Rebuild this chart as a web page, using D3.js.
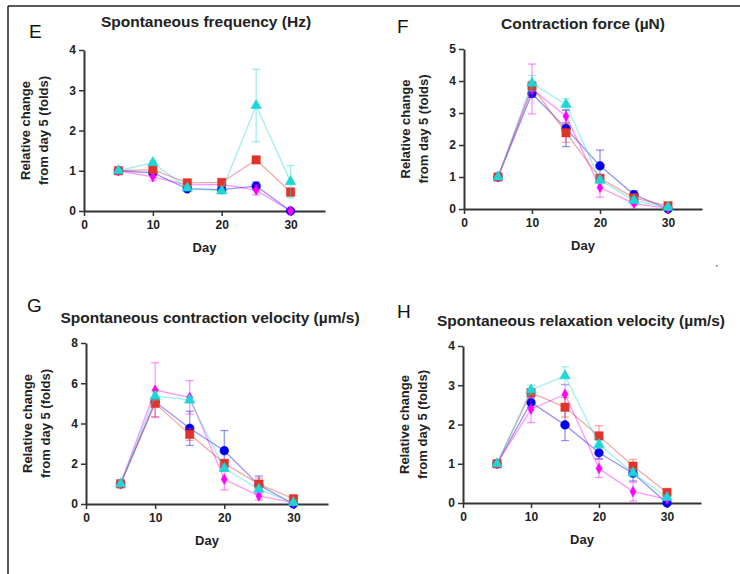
<!DOCTYPE html>
<html>
<head>
<meta charset="utf-8">
<script src="https://cdn.jsdelivr.net/npm/d3@7"></script>
<style>
	body { margin: 0; background: #fff; }
	svg text { font-family: 'Liberation Sans', Arial, sans-serif; }
	.title { font-size: 15.5px; font-weight: bold; fill: #222; }
	.letter { font-size: 19px; fill: #111; }
	.ylab { font-size: 13px; font-weight: bold; fill: #222; }
	.xlab { font-size: 13px; font-weight: bold; fill: #222; }
	.tick text { font-size: 12px; font-weight: bold; fill: #222; }
</style>
</head>
<body>
<script>

// x values (day) shared by every panel
var days = [5, 10, 15, 20, 25, 30];
var xTicks = [0, 10, 20, 30];

// E: spontaneous frequency
var freqBlue = [1.0, 0.95, 0.55, 0.53, 0.62, 0.0];
var freqBlueErr = [0, 0.05, 0.05, 0.05, 0.1, 0];
var freqRed = [1.0, 1.03, 0.70, 0.71, 1.27, 0.47];
var freqRedErr = [0, 0.05, 0.05, 0.05, 0.05, 0.1];
var freqMagenta = [1.0, 0.85, 0.65, 0.66, 0.52, 0.0];
var freqMagentaErr = [0, 0.1, 0.05, 0.05, 0.12, 0];
var freqCyan = [1.0, 1.2, 0.57, 0.5, 2.62, 0.73];
var freqCyanErr = [0, 0.05, 0.05, 0.05, 0.9, 0.4];

// F: contraction force
var forceBlue = [1.0, 3.61, 2.52, 1.35, 0.45, 0.0];
var forceBlueErr = [0, 0.12, 0.57, 0.49, 0.12, 0];
var forceRed = [1.0, 3.84, 2.38, 0.96, 0.35, 0.1];
var forceRedErr = [0, 0.15, 0.3, 0.12, 0.08, 0.03];
var forceMagenta = [1.0, 3.75, 2.9, 0.67, 0.17, 0.02];
var forceMagentaErr = [0, 0.78, 0.2, 0.3, 0.05, 0.02];
var forceCyan = [1.0, 3.93, 3.27, 0.9, 0.27, 0.05];
var forceCyanErr = [0, 0.24, 0.18, 0.1, 0.08, 0.02];

// G: spontaneous contraction velocity
var contrBlue = [1.0, 5.08, 3.76, 2.65, 0.95, 0.0];
var contrBlueErr = [0, 0.2, 0.85, 1.0, 0.44, 0];
var contrRed = [1.0, 5.0, 3.46, 2.02, 0.99, 0.26];
var contrRedErr = [0, 0.66, 0.3, 0.15, 0.3, 0.05];
var contrMagenta = [1.0, 5.66, 5.3, 1.23, 0.4, 0.07];
var contrMagentaErr = [0, 1.36, 0.83, 0.53, 0.2, 0.03];
var contrCyan = [1.0, 5.36, 5.17, 1.77, 0.73, 0.07];
var contrCyanErr = [0, 0.2, 0.15, 0.15, 0.1, 0.03];

// H: spontaneous relaxation velocity
var relaxBlue = [1.0, 2.56, 1.99, 1.28, 0.76, 0.0];
var relaxBlueErr = [0, 0.12, 0.4, 0.15, 0.2, 0];
var relaxRed = [1.0, 2.81, 2.44, 1.71, 0.94, 0.27];
var relaxRedErr = [0, 0.1, 0.25, 0.26, 0.17, 0.05];
var relaxMagenta = [1.0, 2.39, 2.77, 0.88, 0.29, 0.1];
var relaxMagentaErr = [0, 0.34, 0.25, 0.23, 0.24, 0.03];
var relaxCyan = [1.0, 2.88, 3.24, 1.49, 0.77, 0.14];
var relaxCyanErr = [0, 0.12, 0.23, 0.1, 0.1, 0.03];

var width = 740;
var height = 574;

var svg = d3.select('body').append('svg')
	.attr('width', width)
	.attr('height', height);

// frame (left + top only)
svg.append('line')
	.attr('x1', 8).attr('y1', 6)
	.attr('x2', 8).attr('y2', height)
	.attr('stroke', '#222')
	.attr('stroke-width', 1.5);

svg.append('line')
	.attr('x1', 8).attr('y1', 6)
	.attr('x2', width).attr('y2', 6)
	.attr('stroke', '#222')
	.attr('stroke-width', 1.5);

// stray dot in the original figure
svg.append('rect')
	.attr('x', 716).attr('y', 265)
	.attr('width', 1.5).attr('height', 1.5)
	.style('fill', '#5a5aff');

var colors = {
	blue: '#0000f0',
	red: '#e2332a',
	magenta: '#ff00ff',
	cyan: '#1ed6d6'
};

function drawPanel(opt) {

	var xScale = d3.scaleLinear().domain([0, 35]).range([opt.x0, opt.x1]);
	var yScale = d3.scaleLinear().domain([0, opt.yMax]).range([opt.y0, opt.y1]);

	var g = svg.append('g');

	g.append('text')
		.attr('x', opt.lx)
		.attr('y', opt.ly)
		.text(opt.letter)
		.attr('class', 'letter');

	g.append('text')
		.attr('x', opt.tx)
		.attr('y', opt.ty)
		.text(opt.title)
		.attr('class', 'title')
		.attr('text-anchor', 'middle');

	var xAxis = g.append('g')
		.attr('transform', 'translate(0,' + opt.y0 + ')')
		.call(d3.axisBottom(xScale).tickValues(xTicks).tickFormat(d3.format('d'))
			.tickSize(5).tickSizeOuter(0).tickPadding(4));

	var yAxis = g.append('g')
		.attr('transform', 'translate(' + opt.x0 + ',0)')
		.call(d3.axisLeft(yScale).tickValues(opt.yTicks).tickFormat(d3.format('d'))
			.tickSize(5).tickSizeOuter(0).tickPadding(3));

	[xAxis, yAxis].forEach(function(a) {
		a.select('.domain').attr('stroke', '#333').attr('stroke-width', 2);
		a.selectAll('.tick line').attr('stroke', '#333').attr('stroke-width', 1.5);
	});

	var ymid = (opt.y0 + opt.y1) / 2;

	g.append('text')
		.attr('transform', 'translate(' + (opt.x0 - 54) + ',' + ymid + ') rotate(-90)')
		.text('Relative change')
		.attr('class', 'ylab')
		.attr('text-anchor', 'middle');

	g.append('text')
		.attr('transform', 'translate(' + (opt.x0 - 36) + ',' + ymid + ') rotate(-90)')
		.text('from day 5 (folds)')
		.attr('class', 'ylab')
		.attr('text-anchor', 'middle');

	g.append('text')
		.attr('x', xScale(17.5))
		.attr('y', opt.y0 + 41)
		.text('Day')
		.attr('class', 'xlab')
		.attr('text-anchor', 'middle');

	opt.series.forEach(function(s) {
		drawSeries(g, xScale, yScale, s);
	});
}

function drawSeries(g, xScale, yScale, s) {

	var col = colors[s.color];
	var pts = days.map(function(d, i) { return { x: d, y: s.values[i], e: s.errors[i] }; });

	var line = d3.line()
		.x(function(d) { return xScale(d.x); })
		.y(function(d) { return yScale(d.y); });

	g.append('path')
		.datum(pts)
		.attr('d', line)
		.style('fill', 'none')
		.attr('stroke', col)
		.attr('stroke-opacity', 0.42)
		.attr('stroke-width', 1.3);

	// error bars
	pts.forEach(function(d) {
		if (!d.e) return;
		var cx = xScale(d.x);
		var top = yScale(d.y + d.e);
		var bot = yScale(Math.max(0, d.y - d.e));
		g.append('line')
			.attr('x1', cx).attr('x2', cx)
			.attr('y1', top).attr('y2', bot)
			.attr('stroke', col).attr('stroke-opacity', 0.42).attr('stroke-width', 1.3);
		[top, bot].forEach(function(yy) {
			g.append('line')
				.attr('x1', cx - 4).attr('x2', cx + 4)
				.attr('y1', yy).attr('y2', yy)
				.attr('stroke', col).attr('stroke-opacity', 0.42).attr('stroke-width', 1.3);
		});
	});

	var sym = d3.symbol().type(s.shape).size(s.size);

	g.selectAll(null)
		.data(pts)
		.enter().append('path')
		.attr('d', sym)
		.attr('transform', function(d) { return 'translate(' + xScale(d.x) + ',' + yScale(d.y) + ')'; })
		.style('fill', col)
		.attr('stroke', col)
		.attr('stroke-opacity', 0.5)
		.attr('stroke-width', 1);
}

function seriesSet(blue, blueErr, magenta, magentaErr, red, redErr, cyan, cyanErr) {
	return [
		{ color: 'blue', shape: d3.symbolCircle, size: 60, values: blue, errors: blueErr },
		{ color: 'magenta', shape: d3.symbolDiamond, size: 32, values: magenta, errors: magentaErr },
		{ color: 'red', shape: d3.symbolSquare, size: 70, values: red, errors: redErr },
		{ color: 'cyan', shape: d3.symbolTriangle, size: 48, values: cyan, errors: cyanErr }
	];
}

drawPanel({
	letter: 'E', lx: 29, ly: 38,
	title: 'Spontaneous frequency (Hz)', tx: 206, ty: 27,
	x0: 84, x1: 325, y0: 211, y1: 50, yMax: 4, yTicks: [0, 1, 2, 3, 4],
	series: seriesSet(freqBlue, freqBlueErr, freqMagenta, freqMagentaErr, freqRed, freqRedErr, freqCyan, freqCyanErr)
});

drawPanel({
	letter: 'F', lx: 397, ly: 33,
	title: 'Contraction force (\u00b5N)', tx: 583, ty: 29,
	x0: 464, x1: 702, y0: 209, y1: 49, yMax: 5, yTicks: [0, 1, 2, 3, 4, 5],
	series: seriesSet(forceBlue, forceBlueErr, forceMagenta, forceMagentaErr, forceRed, forceRedErr, forceCyan, forceCyanErr)
});

drawPanel({
	letter: 'G', lx: 27, ly: 312,
	title: 'Spontaneous contraction velocity (\u00b5m/s)', tx: 210, ty: 323,
	x0: 86, x1: 328, y0: 504, y1: 343, yMax: 8, yTicks: [0, 2, 4, 6, 8],
	series: seriesSet(contrBlue, contrBlueErr, contrMagenta, contrMagentaErr, contrRed, contrRedErr, contrCyan, contrCyanErr)
});

drawPanel({
	letter: 'H', lx: 397, ly: 318,
	title: 'Spontaneous relaxation velocity (\u00b5m/s)', tx: 581, ty: 326,
	x0: 463, x1: 701, y0: 503, y1: 346, yMax: 4, yTicks: [0, 1, 2, 3, 4],
	series: seriesSet(relaxBlue, relaxBlueErr, relaxMagenta, relaxMagentaErr, relaxRed, relaxRedErr, relaxCyan, relaxCyanErr)
});

</script>
</body>
</html>
